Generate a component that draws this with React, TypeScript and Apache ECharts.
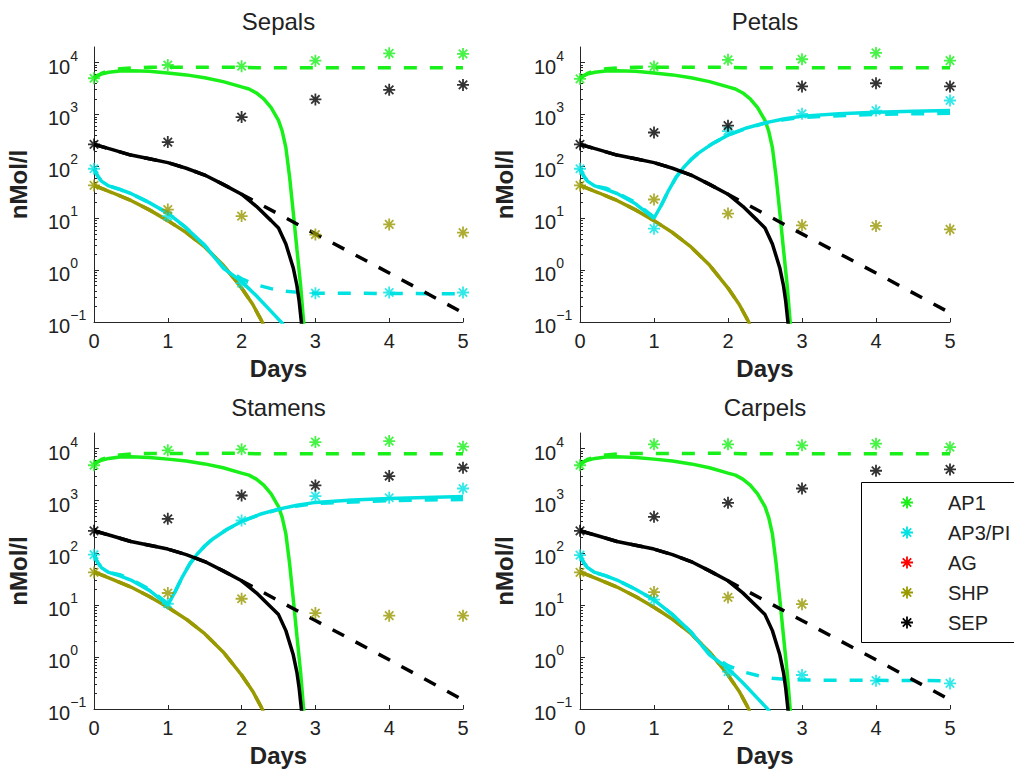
import { useEffect, useRef } from 'react';
import * as echarts from 'echarts';

type Pt = [number, number];

// ---------- texts / ticks ----------
const panelTitles = ['Sepals', 'Petals', 'Stamens', 'Carpels'];
const dayTicks = [0, 1, 2, 3, 4, 5];
const yMajorTicks = [0.1, 1, 10, 100, 1000, 10000];
const yMinorTicks = [
  0.2, 0.3, 0.4, 0.5, 0.6, 0.7, 0.8, 0.9,
  2, 3, 4, 5, 6, 7, 8, 9,
  20, 30, 40, 50, 60, 70, 80, 90,
  200, 300, 400, 500, 600, 700, 800, 900,
  2000, 3000, 4000, 5000, 6000, 7000, 8000, 9000,
];
const legendNames = ['AP1', 'AP3/PI', 'AG', 'SHP', 'SEP'];

// ---------- measured values (asterisks), one row per panel, days 0..5 ----------
const ap1Measured = [
  [5000, 9000, 8500, 10900, 15100, 14700],
  [4850, 8400, 11300, 11600, 15400, 10900],
  [4800, 9300, 9700, 13400, 14000, 10900],
  [4800, 12100, 12100, 11600, 12500, 10700],
];
const ap3Measured = [
  [90, 11, 0.56, 0.36, 0.37, 0.37],
  [90, 6.3, 480, 1030, 1190, 1860],
  [92, 10.5, 417, 1225, 1140, 1720],
  [90, 12.6, 0.52, 0.45, 0.35, 0.31],
];
const shpMeasured: (number | null)[][] = [
  [43, 14.7, 11, 4.85, 7.6, 5.3],
  [43, 23, 12.3, 7.3, 7.1, 6.1],
  [42, 16.9, 13.1, 6.95, 6.2, 6.2],
  [42, 17.6, 13.9, 10.3, null, null],
];
const sepMeasured = [
  [265, 294, 890, 1950, 2985, 3720],
  [265, 450, 610, 3480, 4000, 3480],
  [264, 449, 1260, 1970, 2980, 4300],
  [264, 490, 910, 1720, 3770, 4000],
];

// ---------- model curves [day, nMol/l] ----------
const ap1Solid: Pt[] = [
  [0, 5000], [0.05, 5600], [0.1, 6000], [0.2, 6500], [0.35, 6900], [0.5, 7000],
  [0.75, 6800], [1, 6300], [1.25, 5800], [1.5, 5100], [1.75, 4300], [2, 3400],
  [2.1, 3100], [2.2, 2600], [2.3, 2000], [2.4, 1350], [2.5, 770], [2.55, 480],
  [2.6, 230], [2.65, 63], [2.7, 13], [2.75, 2.5], [2.8, 0.5], [2.84, 0.1], [2.87, 0.03],
];
const ap1Dashed: Pt[] = [
  [0, 5000], [0.1, 6200], [0.2, 7000], [0.35, 7600], [0.5, 7900], [0.75, 8100],
  [1, 8100], [1.5, 8100], [2, 8150], [2.2, 8000], [3, 8000], [5, 8000],
];
const sepSolid: Pt[] = [
  [0, 265], [0.25, 210], [0.5, 165], [0.75, 140], [1, 118], [1.25, 92], [1.5, 68],
  [1.75, 45], [2, 29], [2.2, 17], [2.4, 9], [2.5, 6.5], [2.6, 3.2], [2.7, 1.1],
  [2.75, 0.5], [2.78, 0.25], [2.81, 0.1], [2.84, 0.03],
];
const sepDashed: Pt[] = [
  [0, 265], [0.25, 210], [0.5, 165], [0.75, 140], [1, 118], [1.25, 92], [1.5, 68],
  [1.75, 45], [2, 29], [3, 5], [4, 0.88], [5, 0.15],
];
const shpSolid: Pt[] = [
  [0, 43], [0.25, 31], [0.5, 22], [0.75, 14.5], [1, 9], [1.25, 5.3], [1.5, 2.8],
  [1.75, 1.25], [2, 0.45], [2.15, 0.22], [2.28, 0.1], [2.32, 0.07],
];
const shpDashed: Pt[] = [
  [0, 43], [0.25, 31], [0.5, 22], [0.75, 14.5], [1, 9], [1.25, 5.3], [1.5, 2.8],
  [1.75, 1.25], [2, 0.45], [2.15, 0.22], [2.28, 0.1], [2.32, 0.07],
];
const ap3FallSolid: Pt[] = [
  [0, 90], [0.05, 65], [0.1, 52], [0.2, 42], [0.35, 36], [0.5, 30], [0.75, 20],
  [1, 12.5], [1.25, 6.5], [1.5, 3], [1.75, 1.1], [2, 0.6], [2.2, 0.32], [2.4, 0.16],
  [2.55, 0.095], [2.6, 0.07],
];
const ap3FallDashed: Pt[] = [
  [0, 90], [0.05, 65], [0.1, 52], [0.2, 42], [0.35, 36], [0.5, 30], [0.75, 20],
  [1, 12.5], [1.25, 6.5], [1.5, 3], [1.75, 1.15], [2, 0.68], [2.2, 0.52], [2.4, 0.44],
  [2.6, 0.39], [2.8, 0.37], [3, 0.36], [4, 0.355], [5, 0.35],
];
const ap3RiseSolid: Pt[] = [
  [0, 90], [0.05, 65], [0.1, 52], [0.2, 42], [0.35, 36], [0.5, 30], [0.75, 19],
  [1, 10], [1.1, 18], [1.2, 35], [1.3, 62], [1.4, 95], [1.5, 135], [1.6, 180],
  [1.8, 280], [2, 400], [2.25, 550], [2.5, 690], [2.75, 820], [3, 930], [3.5, 1030],
  [4, 1100], [4.5, 1150], [5, 1200],
];
const ap3RiseDashed: Pt[] = [
  [0, 90], [0.05, 65], [0.1, 52], [0.2, 42], [0.35, 38], [0.5, 31], [0.75, 20],
  [1, 10.5], [1.1, 18], [1.2, 35], [1.3, 62], [1.4, 95], [1.5, 135], [1.6, 180],
  [1.8, 280], [2, 400], [2.25, 540], [2.5, 680], [2.75, 790], [3, 880], [3.5, 950],
  [4, 1000], [4.5, 1030], [5, 1060],
];
const ap3ModelKind = ['fall', 'rise', 'rise', 'fall'];

// ---------- styling ----------
const FONT = '"Liberation Sans", Arial, Helvetica, sans-serif';
const TXT = '#222222';
const AXIS = '#262626';
const COLORS: Record<string, string> = {
  AP1: '#19f019',
  'AP3/PI': '#00e2e2',
  AG: '#ff0000',
  SHP: '#999900',
  SEP: '#000000',
};
const STAR = 'path://M10 0L10 20M0 10L20 10M3 3L17 17M3 17L17 3';
const STAR_PATH = 'M0 -6L0 6M-6 0L6 0M-4.2 -4.2L4.2 4.2M-4.2 4.2L4.2 -4.2';
const gridRects = [
  { left: 94, top: 47, width: 369, height: 275 },
  { left: 580, top: 47, width: 370, height: 275 },
  { left: 94, top: 433, width: 369, height: 276 },
  { left: 580, top: 433, width: 370, height: 276 },
];
const titleY = [21, 407];
const legendBox = { x: 861.5, y: 482.5, width: 200, height: 160 };
const legendIconX = 907;
const legendTextX = 948;
const legendFirstY = 502.5;
const legendStep = 30;

let starRegistered = false;
function registerStar() {
  if (starRegistered) return;
  const Cls = (echarts.graphic as any).extendPath(STAR_PATH, {});
  echarts.graphic.registerShape('asterisk', Cls);
  starRegistered = true;
}

function buildOption() {
  const grid = gridRects.map((r) => ({ ...r }));
  const xAxis = gridRects.map((_, i) => ({
    gridIndex: i,
    type: 'value',
    min: 0,
    max: 5,
    interval: 1,
    axisLine: { show: true, onZero: false, lineStyle: { color: AXIS, width: 1 } },
    axisTick: { show: true, inside: true, length: 4, lineStyle: { color: AXIS } },
    axisLabel: {
      fontSize: 20, color: TXT, margin: 9, fontFamily: FONT,
      showMinLabel: true, showMaxLabel: true,
    },
    splitLine: { show: false },
    name: 'Days',
    nameLocation: 'middle',
    nameGap: 34,
    nameTextStyle: { fontSize: 24, fontWeight: 'bold', color: TXT, fontFamily: FONT },
  }));
  const yAxis: any[] = [];
  gridRects.forEach((_, i) => {
    yAxis.push({
      gridIndex: i,
      type: 'log',
      logBase: 10,
      min: 0.1,
      max: 20000,
      position: 'left',
      axisLine: { show: true, onZero: false, lineStyle: { color: AXIS, width: 1 } },
      axisTick: { show: true, inside: true, length: 5, customValues: yMajorTicks, lineStyle: { color: AXIS } },
      axisLabel: {
        customValues: yMajorTicks,
        align: 'left',
        margin: 46,
        fontSize: 20,
        color: TXT,
        fontFamily: FONT,
        formatter: (v: number) => {
          const e = Math.round(Math.log10(v));
          return `{b|10}{s|${e < 0 ? '\u2212' + -e : e}}`;
        },
        rich: {
          b: { fontSize: 20, lineHeight: 28, color: TXT, fontFamily: FONT, verticalAlign: 'bottom' },
          s: { fontSize: 14, lineHeight: 12, color: TXT, fontFamily: FONT, verticalAlign: 'top' },
        },
      },
      minorTick: { show: false },
      splitLine: { show: false },
      name: 'nMol/l',
      nameLocation: 'middle',
      nameGap: 64,
      nameTextStyle: { fontSize: 24, fontWeight: 'bold', color: TXT, fontFamily: FONT },
    });
    yAxis.push({
      gridIndex: i,
      type: 'log',
      logBase: 10,
      min: 0.1,
      max: 20000,
      position: 'left',
      axisLine: { show: false },
      axisTick: { show: true, inside: true, length: 3, customValues: yMinorTicks, lineStyle: { color: AXIS } },
      axisLabel: { show: false },
      splitLine: { show: false },
    });
  });

  const series: any[] = [];
  const line = (name: string, data: Pt[], color: string, dashed: boolean, i: number) => ({
    type: 'line',
    name,
    xAxisIndex: i,
    yAxisIndex: i * 2,
    data,
    showSymbol: false,
    symbol: 'none',
    silent: true,
    clip: true,
    lineStyle: { color, width: 3.5, type: dashed ? [13, 13] : 'solid', cap: 'butt' },
    z: 2,
  });
  const stars = (name: string, vals: (number | null)[], i: number) => ({
    type: 'scatter',
    name,
    xAxisIndex: i,
    yAxisIndex: i * 2,
    data: dayTicks
      .map((d, j) => [d, vals[j]])
      .filter((p) => p[1] !== null && p[1] !== undefined),
    symbol: STAR,
    symbolSize: 12,
    silent: true,
    itemStyle: { color: COLORS[name], borderColor: COLORS[name], borderWidth: 1.8 },
    z: 3,
  });

  gridRects.forEach((_, i) => {
    const rise = ap3ModelKind[i] === 'rise';
    series.push(line('AP1 model', ap1Solid, COLORS.AP1, false, i));
    series.push(line('AP1 model 2', ap1Dashed, COLORS.AP1, true, i));
    series.push(line('SHP model', shpSolid, COLORS.SHP, false, i));
    series.push(line('SHP model 2', shpDashed, COLORS.SHP, true, i));
    series.push(line('AP3/PI model', rise ? ap3RiseSolid : ap3FallSolid, COLORS['AP3/PI'], false, i));
    series.push(line('AP3/PI model 2', rise ? ap3RiseDashed : ap3FallDashed, COLORS['AP3/PI'], true, i));
    series.push(line('SEP model', sepSolid, COLORS.SEP, false, i));
    series.push(line('SEP model 2', sepDashed, COLORS.SEP, true, i));
    series.push(stars('AP1', ap1Measured[i], i));
    series.push(stars('AP3/PI', ap3Measured[i], i));
    series.push(stars('SHP', shpMeasured[i], i));
    series.push(stars('SEP', sepMeasured[i], i));
  });

  const titles = panelTitles.map((t, i) => {
    const r = gridRects[i];
    return {
      type: 'text',
      x: r.left + r.width / 2,
      y: titleY[i < 2 ? 0 : 1],
      silent: true,
      style: {
        text: t,
        fontSize: 24,
        fontFamily: FONT,
        fill: TXT,
        align: 'center',
        verticalAlign: 'middle',
        textAlign: 'center',
        textVerticalAlign: 'middle',
      },
    };
  });

  const legendChildren: any[] = [
    {
      type: 'rect',
      shape: { x: legendBox.x, y: legendBox.y, width: legendBox.width, height: legendBox.height },
      style: { fill: '#ffffff', stroke: '#000000', lineWidth: 1 },
    },
  ];
  legendNames.forEach((n, k) => {
    const yc = legendFirstY + k * legendStep;
    legendChildren.push({
      type: 'asterisk',
      x: legendIconX,
      y: yc,
      style: { fill: 'none', stroke: COLORS[n], lineWidth: 1.8 },
    });
    legendChildren.push({
      type: 'text',
      x: legendTextX,
      y: yc,
      style: {
        text: n,
        fontSize: 20,
        fontFamily: FONT,
        fill: TXT,
        align: 'left',
        verticalAlign: 'middle',
        textAlign: 'left',
        textVerticalAlign: 'middle',
      },
    });
  });

  return {
    animation: false,
    backgroundColor: '#ffffff',
    grid,
    xAxis,
    yAxis,
    series,
    graphic: [
      ...titles,
      { type: 'group', z: 100, silent: true, children: legendChildren },
    ],
  };
}

export default function App() {
  const ref = useRef<HTMLDivElement>(null);
  useEffect(() => {
    document.body.style.margin = '0';
    if (!ref.current) return;
    registerStar();
    const chart = echarts.init(ref.current, undefined, { renderer: 'svg' });
    chart.setOption(buildOption() as any);
    return () => chart.dispose();
  }, []);
  return <div ref={ref} style={{ width: 1014, height: 771 }} />;
}
